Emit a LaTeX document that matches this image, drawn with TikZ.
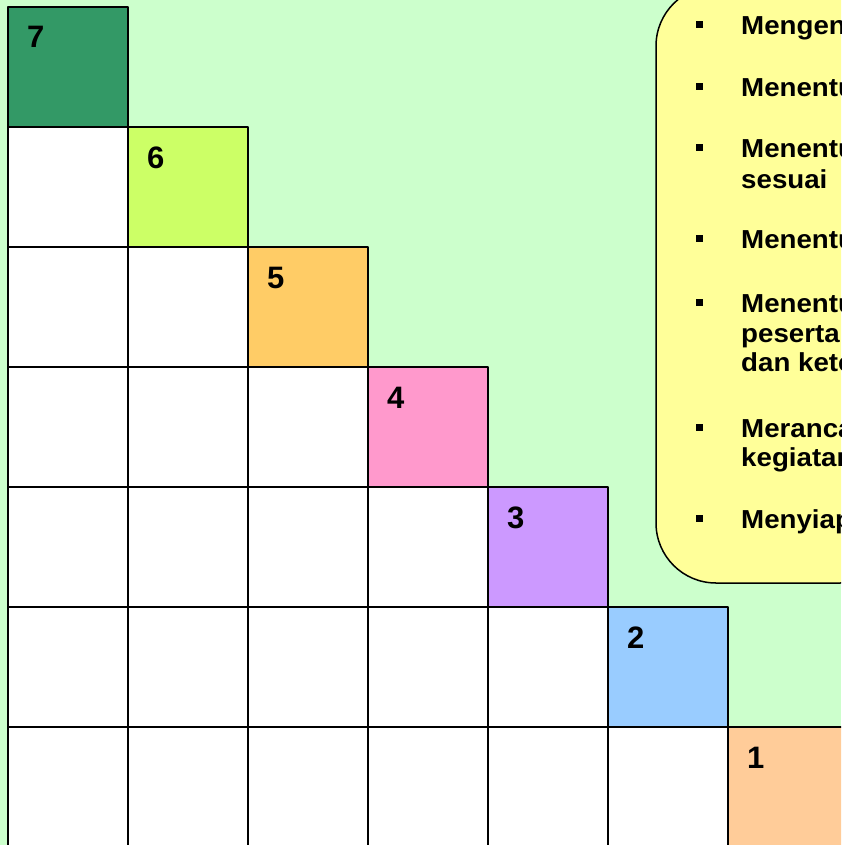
\documentclass[tikz,border=0pt]{standalone}
\usepackage{fontspec}
\setmainfont{Liberation Sans}
\newfontfamily\notefont[FakeStretch=1.065]{Liberation Sans}
\usetikzlibrary{positioning}
\definecolor{stairBack}{HTML}{CCFFCC}
\definecolor{stairSeven}{HTML}{339966}
\definecolor{stairSix}{HTML}{CCFF66}
\definecolor{stairFive}{HTML}{FFCC66}
\definecolor{stairFour}{HTML}{FF99CC}
\definecolor{stairThree}{HTML}{CC99FF}
\definecolor{stairTwo}{HTML}{99CCFF}
\definecolor{stairOne}{HTML}{FFCC99}
\definecolor{stairNote}{HTML}{FFFF99}
\begin{document}
\begin{tikzpicture}[x=1pt,y=-1pt,line cap=round,line join=round]
\path[use as bounding box] (0,0) rectangle (841,845);
\clip (0,0) rectangle (841,845);
\path[fill=stairBack] (0,0) rectangle (841,845);
\tikzset{cell/.style={draw=black,fill=white,line width=1.7pt,minimum width=120pt,minimum height=120pt,inner sep=0pt},numlabel/.style={anchor=base west,inner sep=0pt,font=\fontsize{31}{36}\selectfont\bfseries},itemtext/.style={anchor=base west,inner sep=0pt,font=\notefont\fontsize{26}{30}\selectfont\bfseries},bulletsq/.style={fill=black,minimum size=7pt,inner sep=0pt}}
% white steps below the diagonal
\foreach \r in {1,...,6}{\foreach \c in {1,...,\r}{\node[cell] (w\r-\c) at ({120*\c-52},{120*\r+67}) {};}}
% coloured steps with their numbers
\foreach \i/\clr in {0/stairSeven,1/stairSix,2/stairFive,3/stairFour,4/stairThree,5/stairTwo,6/stairOne}{
  \node[cell,fill=\clr] (k\i) at ({120*\i+68},{120*\i+67}) {};
  \pgfmathtruncatemacro{\num}{7-\i}
  \node[numlabel] (n\i) at ({120*\i+27},{120*\i+48}) {\num};
}
% note box
\path[draw=black,fill=stairNote,line width=1.5pt,rounded corners=60pt] (656,-14) rectangle (900,583);
\foreach \y [count=\k] in {35,97,158,248,312,437,528}{\node[bulletsq] (b\k) at (699.5,\y-10) {};}
\foreach \y/\t [count=\k] in {35/Mengen,97/Menentu,158/Menentu,189/sesuai,248/Menentu,312/Menentu,342/peserta,371/dan kete,437/Meranca,466/kegiatan,528/Menyiap}{\node[itemtext] (t\k) at (741,\y) {\t};}
\end{tikzpicture}
\end{document}
